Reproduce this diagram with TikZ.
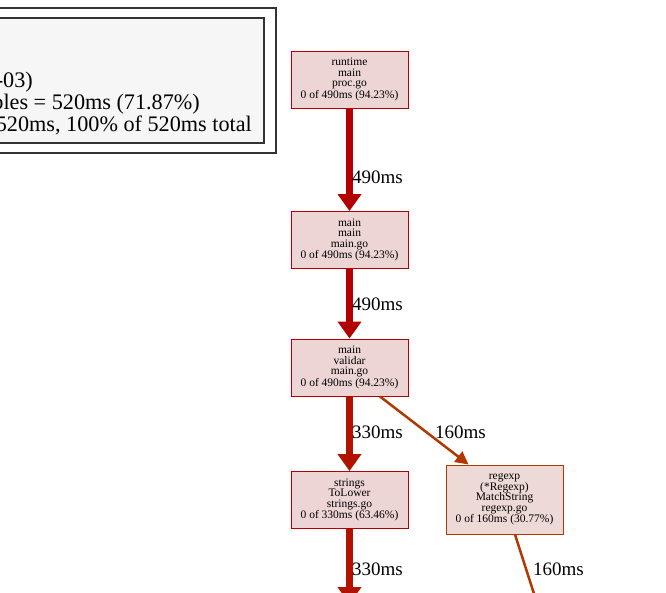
\documentclass[tikz,border=0pt]{standalone}
\usepackage{fontspec}
\setmainfont{Liberation Serif}
\usetikzlibrary{arrows.meta}
\definecolor{hotred}{HTML}{B20000}
\definecolor{warmred}{HTML}{B21200}
\definecolor{rust}{HTML}{B23800}
\definecolor{hotfill}{HTML}{EDD5D5}
\definecolor{rustfill}{HTML}{EDD9D5}
\definecolor{legendfill}{HTML}{F6F6F6}
\definecolor{legendline}{HTML}{333333}
\tikzset{
  fn/.style={draw=hotred,fill=hotfill,line width=1pt,minimum width=117pt,
    minimum height=57pt,inner sep=0pt,align=center,
    font=\fontsize{11.5}{10.5}\selectfont},
  fnwarm/.style={fn,draw=rust,fill=rustfill,minimum height=69pt},
  heavy/.style={draw=hotred,line width=6.5pt,
    -{Triangle[length=17pt,width=23pt]}},
  medium/.style={heavy,draw=warmred},
  light/.style={draw=rust,line width=2.5pt,
    -{Triangle[length=13pt,width=13pt]}},
  plain/.style={draw=rust,line width=2.5pt},
  cost/.style={anchor=base west,inner sep=0pt,
    font=\fontsize{19}{21}\selectfont},
  legendtext/.style={anchor=base east,inner sep=0pt,
    font=\fontsize{22.2}{23}\selectfont}
}

\begin{document}
\begin{tikzpicture}[x=1pt,y=-1pt]
\useasboundingbox (0,0) rectangle (666,592);
\clip (0,0) rectangle (666,592);
% legend, cut off at the left
\draw[legendline,line width=1.3pt] (-20,8) rectangle (276,153);
\draw[legendline,fill=legendfill,line width=1.3pt] (-20,18) rectangle (264,143);
\node[legendtext] (leg1) at (33,87) {-03)};
\node[legendtext] (leg2) at (200,109) {bles = 520ms (71.87\%)};
\node[legendtext] (leg3) at (252,131) {520ms, 100\% of 520ms total};
% call graph
\node[fn] (runtime) at (349.5,79.5) {runtime\\main\\proc.go\\0 of 490ms (94.23\%)};
\node[fn] (mainmain) at (349.5,240) {main\\main\\main.go\\0 of 490ms (94.23\%)};
\node[fn] (validar) at (349.5,367.5) {main\\validar\\main.go\\0 of 490ms (94.23\%)};
\node[fn] (tolower) at (349.5,500) {strings\\ToLower\\strings.go\\0 of 330ms (63.46\%)};
\node[fnwarm] (regexp) at (504.5,499.5) {regexp\\(*Regexp)\\MatchString\\regexp.go\\0 of 160ms (30.77\%)};
\coordinate (below1) at (349.5,604);
\coordinate (below2) at (536,600);
\draw[heavy] (runtime) -- (mainmain);
\draw[heavy] (mainmain) -- (validar);
\draw[medium] (validar) -- (tolower);
\draw[light] ([xshift=30.5pt]validar.south) -- ([xshift=-36pt]regexp.north);
\draw[medium] (tolower) -- (below1);
\draw[plain] ([xshift=10.5pt]regexp.south) -- (below2);
\node[cost] (c1) at (352,183) {490ms};
\node[cost] (c2) at (352,310) {490ms};
\node[cost] (c3) at (352,438) {330ms};
\node[cost] (c4) at (435,438) {160ms};
\node[cost] (c5) at (352,575) {330ms};
\node[cost] (c6) at (533,575) {160ms};
\end{tikzpicture}
\end{document}
